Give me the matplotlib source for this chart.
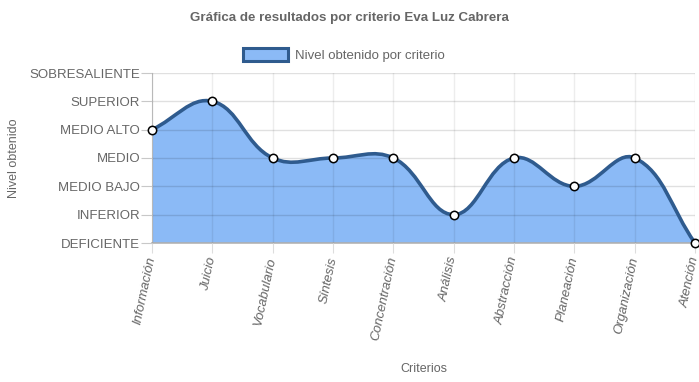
#!/usr/bin/env python3
"""Area chart of levels per criterion, Chart.js-like smooth curve."""

import matplotlib.pyplot as plt
import numpy as np
from matplotlib.patches import Patch, PathPatch
from matplotlib.path import Path

plt.rcParams["font.family"] = ["Liberation Sans", "DejaVu Sans"]

criterios = ["Información", "Juicio", "Vocabulario", "Síntesis", "Concentración",
             "Análisis", "Abstracción", "Planeación", "Organización", "Atención"]
niveles = [4, 5, 3, 3, 3, 1, 3, 2, 3, 0]
etiquetas_nivel = ["DEFICIENTE", "INFERIOR", "MEDIO BAJO", "MEDIO",
                   "MEDIO ALTO", "SUPERIOR", "SOBRESALIENTE"]

FILL = "#8bbaf6"
LINE = "#2f5b8e"
TXT = "#666666"


def spline_path(xs, ys, sx, sy, tension=0.4):
    # Chart.js splineCurve, distances measured in pixel space
    px = np.asarray(xs, float) * sx
    py = np.asarray(ys, float) * sy
    n = len(px)
    cps = []
    for i in range(n):
        p0 = (px[max(i - 1, 0)], py[max(i - 1, 0)])
        p1 = (px[i], py[i])
        p2 = (px[min(i + 1, n - 1)], py[min(i + 1, n - 1)])
        d01 = np.hypot(p1[0] - p0[0], p1[1] - p0[1])
        d12 = np.hypot(p2[0] - p1[0], p2[1] - p1[1])
        tot = d01 + d12
        s01 = d01 / tot if tot else 0
        s12 = d12 / tot if tot else 0
        fa, fb = tension * s01, tension * s12
        prev = (p1[0] - fa * (p2[0] - p0[0]), p1[1] - fa * (p2[1] - p0[1]))
        nxt = (p1[0] + fb * (p2[0] - p0[0]), p1[1] + fb * (p2[1] - p0[1]))
        cps.append((prev, nxt))

    def to_data(p):
        x = min(max(p[0] / sx, 0), n - 1)
        y = min(max(p[1] / sy, 0), 6)
        return (x, y)

    verts = [(xs[0], ys[0])]
    codes = [Path.MOVETO]
    for i in range(n - 1):
        verts += [to_data(cps[i][1]), to_data(cps[i + 1][0]), (xs[i + 1], ys[i + 1])]
        codes += [Path.CURVE4] * 3
    return verts, codes


def main():
    fig = plt.figure(figsize=(6.99, 3.82), dpi=100)
    ax = fig.add_axes([152 / 699, 1 - 243 / 382, 543 / 699, 170 / 382])

    x = np.arange(len(criterios))
    verts, codes = spline_path(x, niveles, 543 / 9, 170 / 6)

    fill_verts = verts + [(x[-1], 0), (x[0], 0), verts[0]]
    fill_codes = codes + [Path.LINETO, Path.LINETO, Path.CLOSEPOLY]
    ax.add_patch(PathPatch(Path(fill_verts, fill_codes), facecolor=FILL,
                           edgecolor="none", zorder=1))
    ax.add_patch(PathPatch(Path(verts, codes), facecolor="none", edgecolor=LINE,
                           lw=2.6, zorder=3, capstyle="round"))
    ax.plot(x, niveles, "o", ms=6, mfc="white", mec="black", mew=1.1,
            zorder=4, clip_on=False)

    ax.set_xlim(0, len(criterios) - 1)
    ax.set_ylim(0, 6)
    ax.set_xticks(x)
    ax.set_xticklabels(criterios, rotation=78, ha="right", va="center",
                       rotation_mode="anchor", style="italic", color=TXT, fontsize=9.5)
    ax.set_yticks(range(len(etiquetas_nivel)))
    ax.set_yticklabels(etiquetas_nivel, color=TXT, fontsize=9.5)
    ax.tick_params(axis="y", length=8, color="#c8c8c8", pad=0.5)
    ax.tick_params(axis="x", length=7, color="#dddddd", pad=3)

    ax.set_axisbelow(False)
    ax.grid(axis="y", color="#000000", alpha=0.12, lw=1, zorder=2)
    ax.grid(axis="x", color="#000000", alpha=0.07, lw=1, zorder=2)
    for s in ("top", "right"):
        ax.spines[s].set_visible(False)
    ax.spines["left"].set_color("#c8c8c8")
    ax.spines["bottom"].set_color("#b4b4b4")
    ax.spines["bottom"].set_linewidth(1.2)

    ax.set_ylabel("Nivel obtenido", color=TXT, fontsize=9)
    ax.yaxis.set_label_coords(-(152 - 20) / 543, 0.5)
    ax.set_xlabel("Criterios", color=TXT, fontsize=9)
    ax.xaxis.set_label_coords(0.5, -(363 - 243) / 170)

    fig.text(0.5, 1 - 18 / 382, "Gráfica de resultados por criterio Eva Luz Cabrera",
             ha="center", va="center", fontsize=9.6, fontweight="bold", color=TXT)
    handle = Patch(facecolor=FILL, edgecolor=LINE, lw=2.2)
    fig.legend([handle], ["Nivel obtenido por criterio"], loc="center",
               bbox_to_anchor=(344 / 699, 1 - 55 / 382), frameon=False, fontsize=9.5,
               labelcolor=TXT, handlelength=3.4, handleheight=1.2, handletextpad=0.5)

    fig.savefig("out.png", dpi=100)


if __name__ == "__main__":
    main()
